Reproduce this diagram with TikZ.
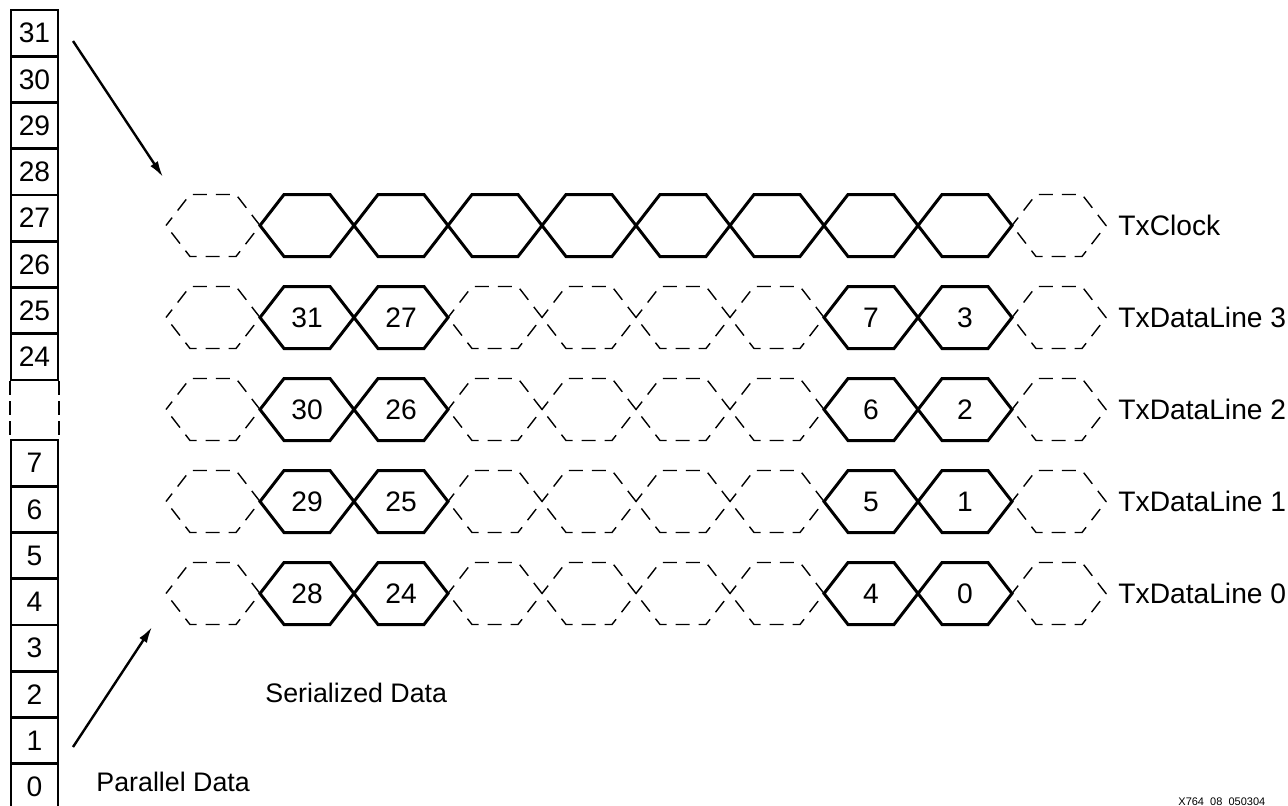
\documentclass[tikz,border=0pt]{standalone}
\usepackage{fontspec}
\setmainfont{Liberation Sans}
\usetikzlibrary{arrows.meta}
\tikzset{
  txt/.style={inner sep=0pt, font=\fontsize{14.1}{17}\selectfont},
  caption/.style={inner sep=0pt, font=\fontsize{13.4}{16}\selectfont},
  bitbox/.style={draw, line width=1.4pt, minimum width=23.5pt, minimum height=23.125pt, inner sep=0pt, font=\fontsize{14.1}{17}\selectfont},
  gapline/.style={line width=1pt, dash pattern=on 7pt off 3pt},
  hexsolid/.style={line width=1.5pt, line join=miter},
  hexdash/.style={line width=0.7pt, dash pattern=on 7pt off 4.5pt, dash phase=2pt},
  arr/.style={line width=1.2pt, -{Latex[length=8pt,width=4.5pt]}},
}
\newcommand{\hexat}[3]{% style, left x, centre y
  \draw[#1] (#2,#3) -- ++(24,-31) -- ++(46,0) -- ++(24,31) -- ++(-24,31) -- ++(-46,0) -- cycle;}
\begin{document}
\begin{tikzpicture}[x=0.5pt,y=-0.5pt]
\useasboundingbox (0,0) rectangle (1288,805);
% parallel word
\foreach \n [count=\k from 0] in {31,30,29,28,27,26,25,24}{
  \node[bitbox] (b\n) at (34.5,{10+46.25*(\k+0.5)}) {\n};
}
\foreach \n [count=\k from 0] in {7,6,5,4,3,2,1,0}{
  \node[bitbox] (b\n) at (34.5,{440+46.25*(\k+0.5)}) {\n};
}
\draw[gapline] (b24.south west) -- (b7.north west);
\draw[gapline] (b24.south east) -- (b7.north east);
% dashed (idle) cells
\foreach \i in {0,9}{\hexat{hexdash}{166+94*\i}{225.5}}
\foreach \y in {317.5,409.5,501.5,593.5}{
  \foreach \i in {0,3,4,5,6,9}{\hexat{hexdash}{166+94*\i}{\y}}
}
% clock cells
\foreach \i in {1,...,8}{\hexat{hexsolid}{166+94*\i}{225.5}}
% data cells
\foreach \y in {317.5,409.5,501.5,593.5}{
  \foreach \i in {1,2,7,8}{\hexat{hexsolid}{166+94*\i}{\y}}
}
\foreach \a/\b/\c/\d/\y [count=\r from 0] in {31/27/7/3/317.5,30/26/6/2/409.5,29/25/5/1/501.5,28/24/4/0/593.5}{
  \node[txt] (s\a) at (307,\y) {\a};
  \node[txt] (s\b) at (401,\y) {\b};
  \node[txt] (s\c) at (871,\y) {\c};
  \node[txt] (s\d) at (965,\y) {\d};
}
% line labels
\node[txt, anchor=west] (lclk) at (1118,225.5) {TxClock};
\node[txt, anchor=west] (l3) at (1118,317.5) {TxDataLine 3};
\node[txt, anchor=west] (l2) at (1118,409.5) {TxDataLine 2};
\node[txt, anchor=west] (l1) at (1118,501.5) {TxDataLine 1};
\node[txt, anchor=west] (l0) at (1118,593.5) {TxDataLine 0};
% captions
\node[caption, anchor=west] (ser) at (265,693) {Serialized Data};
\node[caption, anchor=west] (par) at (96,782) {Parallel Data};
\node[inner sep=0pt, anchor=north west, font=\fontsize{5.5}{6}\selectfont] (fig) at (1178,797) {X764\_08\_050304};
% arrows
\coordinate (t1) at (73,41);
\coordinate (t2) at (163,177);
\draw[arr] (t1) -- (t2);
\coordinate (u1) at (73,747);
\coordinate (u2) at (152,627);
\draw[arr] (u1) -- (u2);
\end{tikzpicture}
\end{document}
